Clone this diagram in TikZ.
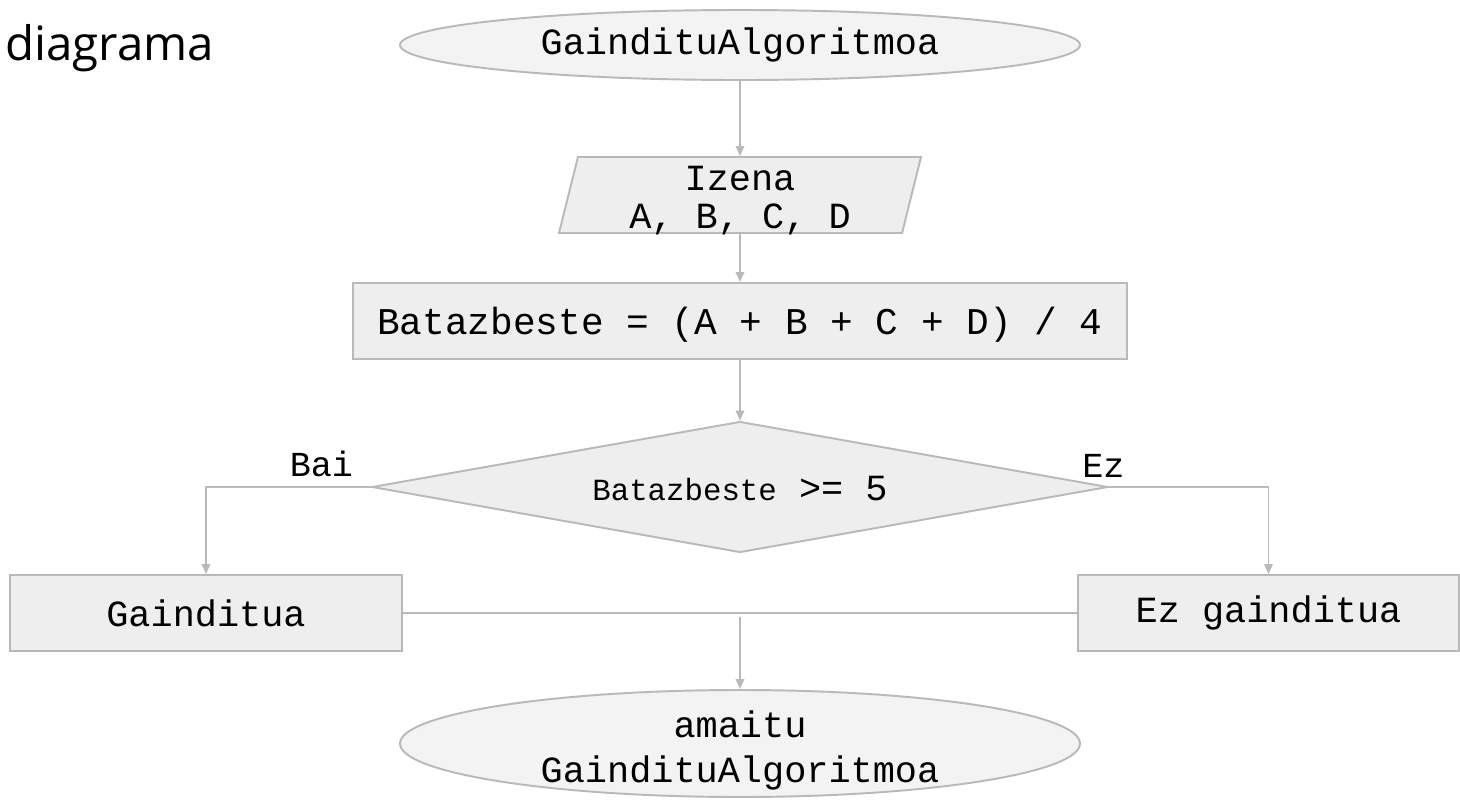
\documentclass[tikz,border=0pt]{standalone}
\usepackage{fontspec}
\setmonofont{Liberation Mono}
\setsansfont{Open Sans}
\usepackage{tikz}
\usetikzlibrary{shapes, arrows.meta, positioning}

\definecolor{boxfill}{RGB}{238,238,238}
\definecolor{ovalfill}{RGB}{243,243,243}
\definecolor{edge}{RGB}{185,185,185}

% two lines, set a little lower than the centre
\newcommand{\lowlines}[1]{\raisebox{-4pt}[\height][\depth]{\begin{tabular}{@{}c@{}}#1\end{tabular}}}

\begin{document}
\begin{tikzpicture}[node distance = 2.52cm]

\tikzstyle{terminal} = [ellipse, minimum width=13.6cm, minimum height=1.4cm, inner sep=0pt, align=center, draw=edge, fill=ovalfill, line width=1.1pt, font=\ttfamily\fontsize{21}{25.6}\selectfont]
\tikzstyle{io} = [trapezium, trapezium left angle=76, trapezium right angle=104, trapezium stretches body, minimum width=7.24cm, minimum height=1.52cm, inner sep=0pt, align=center, draw=edge, fill=boxfill, line width=1.1pt, font=\ttfamily\fontsize{21}{21.6}\selectfont]
\tikzstyle{process} = [rectangle, minimum height=1.52cm, inner sep=0pt, text centered, draw=edge, fill=boxfill, line width=1.1pt, font=\ttfamily\fontsize{21}{25}\selectfont]
\tikzstyle{decision} = [diamond, aspect=5.6, minimum width=14.72cm, minimum height=2.62cm, inner sep=0pt, text centered, draw=edge, fill=boxfill, line width=1.1pt, font=\ttfamily\fontsize{21}{25}\selectfont]
\tikzstyle{tag} = [inner sep=0pt, font=\ttfamily\fontsize{20}{24}\selectfont]
\tikzstyle{arrow} = [line width=1.1pt, draw=edge, -{Triangle[length=0.2cm, width=0.17cm]}]
\tikzstyle{line} = [line width=1.1pt, draw=edge]

\useasboundingbox (0,0) rectangle (29.2,-15.98);

% title
\node (title)[anchor=base west, inner sep=0pt, font=\sffamily\fontsize{27}{31}\selectfont] at (0.1,-1.2) {diagrama};

% flow
\node (start)[terminal] at (14.8,-0.9) {GaindituAlgoritmoa};
\node (input)[io, below of = start, yshift = -0.48cm] {\lowlines{Izena\\A, B, C, D}};
\node (calc)[process, below of = input, minimum width=15.48cm, font=\ttfamily\fontsize{21.5}{25}\selectfont, text depth=0pt] {Batazbeste = (A + B + C + D) / 4};
\node (check)[decision, below of = calc, yshift = -0.8cm, text depth=0pt] {\raisebox{-2pt}{{\fontsize{17.5}{20}\selectfont Batazbeste} >= 5}};

% branches
\node (pass)[process, below of = check, xshift = -10.68cm, minimum width=7.84cm] {Gainditua};
\node (fail)[process, below of = check, xshift = 10.57cm, minimum width=7.62cm] {Ez gainditua};

% end
\node (finish)[terminal, below of = check, yshift = -2.61cm, minimum height=2.14cm, inner sep=-6pt] {\lowlines{amaitu\\GaindituAlgoritmoa}};
\coordinate[above = 1.44cm of finish.north] (join);

% arrows
\draw[arrow] (start) -- (input);
\draw[arrow] (input) -- (calc);
\draw[arrow] (calc) -- (check);

\draw[arrow] (check.west) node[tag, above left = 0.18cm and 0.34cm]{Bai} -| (pass.north);
\draw[arrow] (check.east) node[tag, above = 0.18cm, xshift = -0.11cm]{Ez} -| (fail.north);

\draw[line] (pass.east) -- (fail.west);
\draw[arrow] (join) -- (finish.north);

\end{tikzpicture}
\end{document}
